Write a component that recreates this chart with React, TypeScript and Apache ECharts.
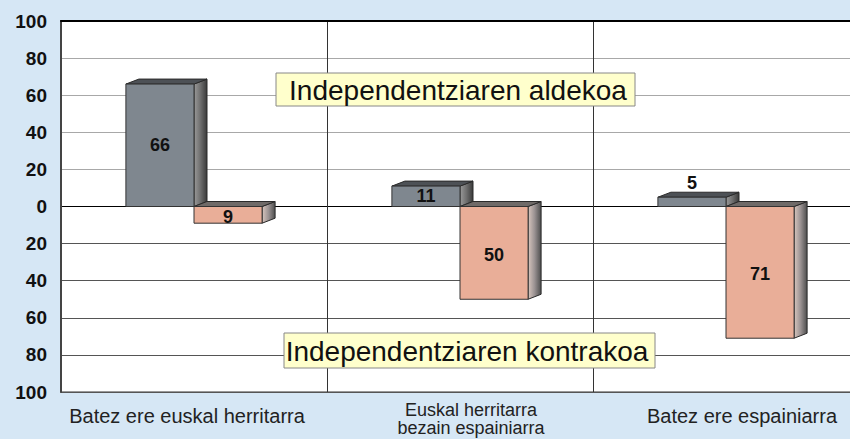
import React, { useEffect, useRef } from 'react';
import * as echarts from 'echarts';

const categories = ['Batez ere euskal herritarra', 'Euskal herritarra\nbezain espainiarra', 'Batez ere espainiarra'];
const aldekoa = [66, 11, 5];
const kontrakoa = [9, 50, 71];
const boxLabels = ['Independentziaren aldekoa', 'Independentziaren kontrakoa'];

const FONT = '"Liberation Sans", Arial, sans-serif';
const DX = 13;
const DY = 5;

function makeRender(side: number, front: string, topFill: string, sideStops: any[]) {
  return (params: any, api: any) => {
    const i = api.value(0) as number;
    const v = api.value(1) as number;
    const p0 = api.coord([i, 0]);
    const p1 = api.coord([i, v]);
    const band = api.size([1, 0])[0];
    const bw = band * 0.256;
    const x0 = side < 0 ? p0[0] - bw : p0[0];
    const x1 = x0 + bw;
    const yT = Math.min(p0[1], p1[1]);
    const yB = Math.max(p0[1], p1[1]);
    const small = Math.abs(v) < 8;
    const labelY = small ? (v >= 0 ? yT - DY - 9 : yB + 10) : (yT + yB) / 2 + (v < 0 ? 2 : 0);
    return {
      type: 'group',
      children: [
        {
          type: 'polygon',
          shape: { points: [[x1, yT], [x1 + DX, yT - DY], [x1 + DX, yB - DY], [x1, yB]] },
          style: { fill: new echarts.graphic.LinearGradient(0, 0, 1, 0, sideStops), stroke: '#2a2a2a', lineWidth: 1 },
        },
        {
          type: 'polygon',
          shape: { points: [[x0, yT], [x0 + DX, yT - DY], [x1 + DX, yT - DY], [x1, yT]] },
          style: { fill: topFill, stroke: '#2a2a2a', lineWidth: 1 },
        },
        {
          type: 'rect',
          shape: { x: x0, y: yT, width: bw, height: yB - yT },
          style: { fill: front, stroke: '#333', lineWidth: 1 },
        },
        {
          type: 'text',
          x: (x0 + x1) / 2,
          y: labelY,
          style: {
            text: String(Math.abs(v)),
            align: 'center',
            verticalAlign: 'middle',
            fontSize: 18,
            fontWeight: 'bold',
            fontFamily: FONT,
            fill: '#111',
          },
        },
      ],
    };
  };
}

export default function App() {
  const ref = useRef<HTMLDivElement>(null);
  useEffect(() => {
    if (!ref.current) return;
    const chart = echarts.init(ref.current, undefined, { renderer: 'svg' });
    const splitColors = ['#555', '#555', '#555', '#555', '#555', '#000', '#a8a8a8', '#a8a8a8', '#a8a8a8', '#a8a8a8', '#a8a8a8'];
    chart.setOption({
      animation: false,
      backgroundColor: '#d6e7f5',
      grid: {
        left: 61,
        top: 21,
        width: 798,
        height: 371,
        outerBoundsMode: 'none',
        containLabel: false,
        show: true,
        backgroundColor: '#ffffff',
        borderColor: '#999',
        borderWidth: 2,
      },
      xAxis: [
        {
          type: 'category',
          data: categories,
          position: 'bottom',
          axisLine: { show: false },
          axisTick: { show: false },
          splitLine: { show: true, lineStyle: { color: '#333', width: 1 } },
          axisLabel: {
            margin: 9,
            interval: 0,
            color: '#222',
            fontSize: 20,
            fontFamily: FONT,
            lineHeight: 18,
            formatter: (val: string, idx: number) => `{c${idx}|${val}}`,
            rich: {
              c0: { fontSize: 20, fontFamily: FONT, color: '#222', lineHeight: 30, padding: [0, 14, 0, 0] },
              c1: { fontSize: 18, fontFamily: FONT, color: '#222', lineHeight: 18, padding: [0, 0, 0, 22] },
              c2: { fontSize: 20, fontFamily: FONT, color: '#222', lineHeight: 30, padding: [0, 0, 0, 32] },
            },
          },
        },
        {
          type: 'category',
          data: categories,
          axisLine: { show: true, onZero: true, lineStyle: { color: '#000', width: 2 } },
          axisTick: { show: false },
          axisLabel: { show: false },
          splitLine: { show: false },
        },
      ],
      yAxis: {
        type: 'value',
        min: -100,
        max: 100,
        interval: 20,
        axisLine: { show: true, onZero: false, lineStyle: { color: '#444', width: 2 } },
        axisTick: { show: false },
        axisLabel: {
          margin: 14,
          fontSize: 19,
          fontWeight: 'bold',
          fontFamily: FONT,
          color: '#111',
          formatter: (v: number) => String(Math.abs(v)),
        },
        splitLine: { show: true, lineStyle: { color: splitColors, width: 1 } },
      },
      series: [
        {
          name: 'aldekoa',
          type: 'custom',
          xAxisIndex: 0,
          encode: { x: 0, y: 1 },
          data: aldekoa.map((v, i) => [i, v]),
          z: 5,
          renderItem: makeRender(-1, '#7f878f', '#4d5156', [
            { offset: 0, color: '#9a9a9a' },
            { offset: 0.5, color: '#6e6e6e' },
            { offset: 1, color: '#3a3a3a' },
          ]),
        },
        {
          name: 'kontrakoa',
          type: 'custom',
          xAxisIndex: 0,
          encode: { x: 0, y: 1 },
          data: kontrakoa.map((v, i) => [i, -v]),
          z: 5,
          renderItem: makeRender(1, '#e9ae98', '#6f6a68', [
            { offset: 0, color: '#d8c6be' },
            { offset: 0.5, color: '#9a9292' },
            { offset: 1, color: '#4e4e4e' },
          ]),
        },
      ],
      graphic: [
        {
          type: 'rect',
          z: 20,
          shape: { x: 276, y: 73, width: 359, height: 33 },
          style: { fill: '#ffffcc', stroke: '#888', lineWidth: 1 },
        },
        {
          type: 'text',
          z: 21,
          x: 458,
          y: 90,
          style: {
            text: boxLabels[0],
            align: 'center',
            verticalAlign: 'middle',
            fontSize: 28,
            fontFamily: FONT,
            fill: '#111',
          },
        },
        {
          type: 'rect',
          z: 20,
          shape: { x: 284, y: 333, width: 371, height: 35 },
          style: { fill: '#ffffcc', stroke: '#888', lineWidth: 1 },
        },
        {
          type: 'text',
          z: 21,
          x: 467,
          y: 351,
          style: {
            text: boxLabels[1],
            align: 'center',
            verticalAlign: 'middle',
            fontSize: 28,
            fontFamily: FONT,
            fill: '#111',
          },
        },
      ],
    });
    return () => chart.dispose();
  }, []);
  return (
    <div style={{ position: 'fixed', left: 0, top: 0, width: 850, height: 439, overflow: 'hidden', background: '#d6e7f5' }}>
      <div ref={ref} style={{ position: 'absolute', left: 0, top: 0, width: 880, height: 439 }} />
    </div>
  );
}
